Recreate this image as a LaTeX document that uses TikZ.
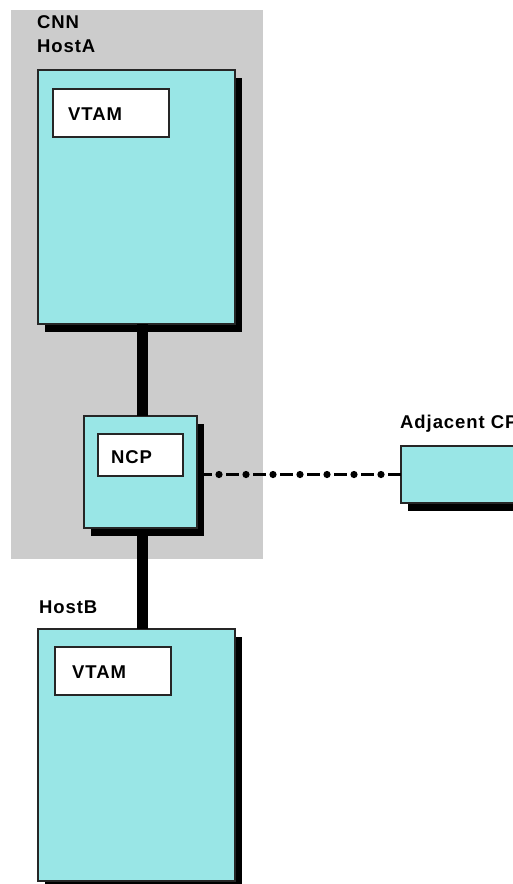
\documentclass[tikz,border=0pt]{standalone}
\usepackage{fontspec}
\setmainfont{Liberation Sans}
\usetikzlibrary{shadows,decorations.markings}
\definecolor{boxcyan}{RGB}{153,230,230}
\definecolor{zonegray}{RGB}{204,204,204}
\begin{document}
\begin{tikzpicture}[x=1pt,y=-1pt,
  zonebox/.style={fill=zonegray, draw=none, inner sep=0, outer sep=0, anchor=north west},
  hostbox/.style={draw=black!85, line width=1.3pt, fill=boxcyan, inner sep=0, outer sep=0, anchor=north west,
    drop shadow={shadow xshift=7pt, shadow yshift=-8pt, fill=black, opacity=1}},
  innerbox/.style={draw=black!85, line width=1.6pt, fill=white, inner sep=0, outer sep=0, anchor=north west},
  lbl/.style={font=\bfseries\fontsize{18.5}{20}\selectfont\addfontfeature{LetterSpace=5}, inner sep=0, anchor=base west},
  link/.style={line width=11pt},
  dashlink/.style={line width=2.6pt, dash pattern=on 13pt off 14pt, dash phase=5pt,
    postaction={decorate, decoration={markings,
      mark=between positions 15pt and 180pt step 27pt with {\fill[solid] (0,0) circle (3.6pt);}}}}
]
\useasboundingbox (0,0) rectangle (513,884);
\node[zonebox, minimum width=252pt, minimum height=549pt] (zone) at (11,10) {};
\node[lbl] (cnn) at (37,28) {CNN};
\node[lbl] (hostAlbl) at (37,52) {HostA};
\node[lbl] (hostBlbl) at (39,613) {HostB};
\node[lbl] (adjlbl) at (400,428) {Adjacent CP};

\node[hostbox, minimum width=197pt, minimum height=254pt] (hostA) at (38,70) {};
\node[innerbox, minimum width=116pt, minimum height=48pt] (vtamA) at (53,89) {};
\node[lbl] (vtamAt) at (68,120) {VTAM};

\node[hostbox, minimum width=113pt, minimum height=112pt] (ncp) at (84,416) {};
\node[innerbox, minimum width=85pt, minimum height=42pt] (ncpin) at (98,434) {};
\node[lbl] (ncpt) at (111,463) {NCP};

\node[hostbox, minimum width=120pt, minimum height=57pt] (adj) at (401,446) {};

\node[hostbox, minimum width=197pt, minimum height=252pt] (hostB) at (38,629) {};
\node[innerbox, minimum width=116pt, minimum height=48pt] (vtamB) at (55,647) {};
\node[lbl] (vtamBt) at (72,678) {VTAM};

\draw[link] ([xshift=6pt]hostA.south) -- ([xshift=2pt]ncp.north);
\draw[link] ([xshift=2pt,yshift=-8pt]ncp.south) -- ([xshift=6pt]hostB.north);
\draw[dashlink] ([xshift=7pt]ncp.east |- adj.west) -- (adj.west);
\end{tikzpicture}
\end{document}
